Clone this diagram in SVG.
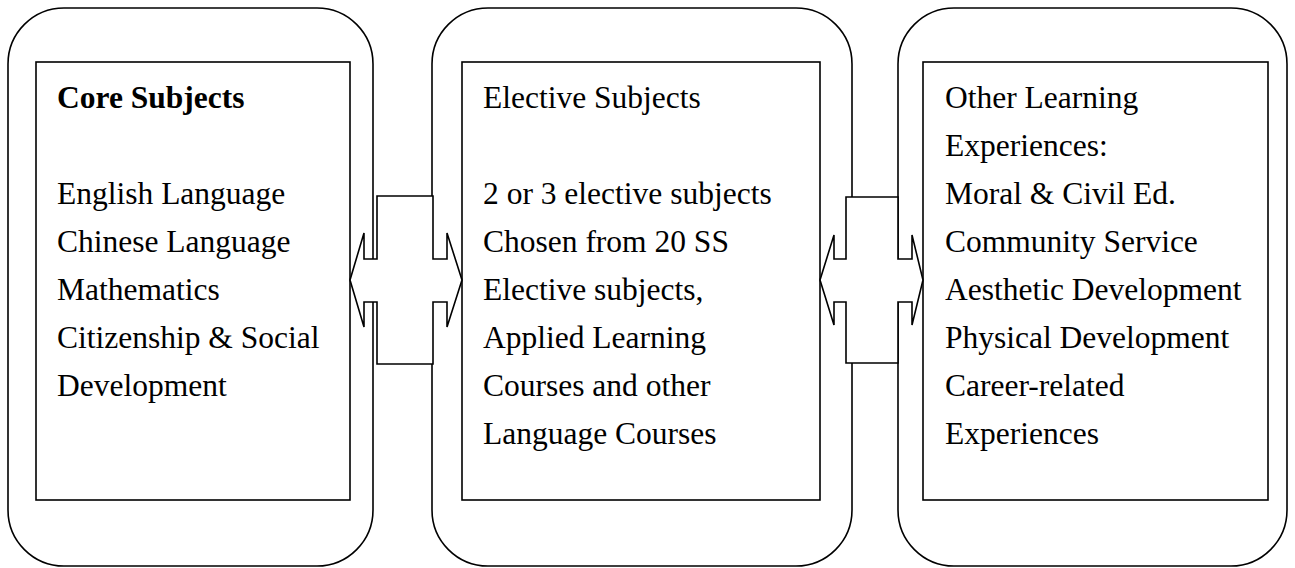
<svg xmlns="http://www.w3.org/2000/svg" width="1295" height="568" viewBox="0 0 1295 568">
<style>
.outer{fill:#fff;stroke:#000;stroke-width:1.6}
.inner{fill:#fff;stroke:#000;stroke-width:1.6}
.call{fill:#fff;stroke:#000;stroke-width:1.6;stroke-linejoin:miter}
text{font-family:"Liberation Serif","Times New Roman",serif;font-size:31.5px;fill:#000}
.b{font-weight:bold}
</style>
<rect width="1295" height="568" fill="#fff"/>
<g id="core">
<rect class="outer" x="8" y="8" width="365" height="558" rx="56" ry="56"/>
<rect class="inner" x="36" y="62" width="314" height="438"/>
<text x="57" y="108" class="b">Core Subjects</text>
<text x="57" y="204">English Language</text>
<text x="57" y="252">Chinese Language</text>
<text x="57" y="300">Mathematics</text>
<text x="57" y="348">Citizenship &amp; Social</text>
<text x="57" y="396">Development</text>
</g>
<g id="elective">
<rect class="outer" x="432" y="8" width="420" height="558" rx="56" ry="56"/>
<rect class="inner" x="462" y="62" width="358" height="438"/>
<text x="483" y="108">Elective Subjects</text>
<text x="483" y="204">2 or 3 elective subjects</text>
<text x="483" y="252">Chosen from 20 SS</text>
<text x="483" y="300">Elective subjects,</text>
<text x="483" y="348">Applied Learning</text>
<text x="483" y="396">Courses and other</text>
<text x="483" y="444">Language Courses</text>
</g>
<g id="ole">
<rect class="outer" x="898" y="8" width="389" height="558" rx="56" ry="56"/>
<rect class="inner" x="923" y="62" width="345" height="438"/>
<text x="945" y="108">Other Learning</text>
<text x="945" y="156">Experiences:</text>
<text x="945" y="204">Moral &amp; Civil Ed.</text>
<text x="945" y="252">Community Service</text>
<text x="945" y="300">Aesthetic Development</text>
<text x="945" y="348">Physical Development</text>
<text x="945" y="396">Career-related</text>
<text x="945" y="444">Experiences</text>
</g>
<g id="connectors">
<polygon class="call" points="350,280 364,233 364,259 377,259 377,196 433,196 433,259 447,259 447,233 462,280 447,327 447,302 433,302 433,364 377,364 377,302 364,302 364,327"/>
<polygon class="call" points="820,280 834,235 834,259 846,259 846,197 898,197 898,259 912,259 912,235 923,280 912,325 912,302 898,302 898,363 846,363 846,302 834,302 834,325"/>
</g>
</svg>
